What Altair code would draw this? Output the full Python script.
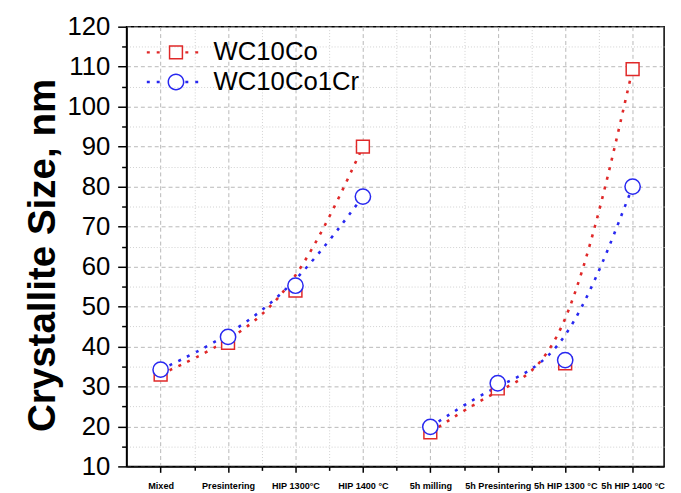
import altair as alt
import pandas as pd

categories = ["Mixed", "Presintering", "HIP 1300°C", "HIP 1400 °C",
              "5h milling", "5h Presintering", "5h HIP 1300 °C", "5h HIP 1400 °C"]
wc10co = [33.0, 40.9, 54.0, 90.0, 18.5, 29.5, 35.8, 109.4]
wc10co1cr = [34.2, 42.4, 55.2, 77.5, 19.9, 30.8, 36.6, 80.0]
segment = [1, 1, 1, 1, 2, 2, 2, 2]
series_names = ["WC10Co", "WC10Co1Cr"]
colors = ["#e02828", "#2828f0"]
x_major = [1, 2, 3, 4, 5, 6, 7, 8]
x_minor = [1.5, 2.5, 3.5, 4.5, 5.5, 6.5, 7.5]
y_major = [10, 20, 30, 40, 50, 60, 70, 80, 90, 100, 110, 120]
y_minor = [15, 25, 35, 45, 55, 65, 75, 85, 95, 105, 115]

rows = []
for name, vals in zip(series_names, [wc10co, wc10co1cr]):
    for i, v in enumerate(vals):
        rows.append({"idx": i + 1, "size": v, "series": name,
                     "grp": f"{name}-{segment[i]}"})
df = pd.DataFrame(rows)

FONT = "Liberation Sans"
xs = alt.Scale(domain=[0.495, 8.467], nice=False, zero=False)
ys = alt.Scale(domain=[10, 120], nice=False, zero=False)
stroke_scale = alt.Scale(domain=series_names, range=colors)

label_arr = "[" + ",".join("'" + c + "'" for c in categories) + "]"

ax_x_major = alt.Axis(values=x_major, orient="bottom", title=None,
                      labelExpr=f"{label_arr}[datum.value - 1]",
                      labelFont=FONT, labelFontWeight="bold", labelFontSize=9.2,
                      labelColor="black", labelPadding=9, labelAngle=0,
                      labelOverlap=False, labelBound=False, labelFlush=False,
                      tickSize=6, tickWidth=1.5, tickColor="black",
                      domain=True, domainColor="black", domainWidth=1.5,
                      grid=True, gridColor="#b8b8b8", gridDash=[4, 3], gridWidth=1)
ax_x_minor = alt.Axis(values=x_minor, orient="bottom", title=None, labels=False,
                      tickSize=4, tickWidth=1.5, tickColor="black", domain=False,
                      grid=True, gridColor="#d0d0d0", gridDash=[1, 2], gridWidth=1)
ax_y_major = alt.Axis(values=y_major, orient="left", title="Crystallite Size, nm",
                      titleFont=FONT, titleFontWeight="bold", titleFontSize=39,
                      titleColor="black", titleX=-73, titleY=231,
                      titleBaseline="alphabetic", titleAngle=270,
                      labelFont=FONT, labelFontSize=26, labelColor="black",
                      labelPadding=8, labelOverlap=False,
                      tickSize=9, tickWidth=1.5, tickColor="black",
                      domain=True, domainColor="black", domainWidth=1.5,
                      grid=True, gridColor="#b8b8b8", gridDash=[4, 3], gridWidth=1)
ax_y_minor = alt.Axis(values=y_minor, orient="left", title=None, labels=False,
                      tickSize=5, tickWidth=1.5, tickColor="black", domain=False,
                      grid=True, gridColor="#d0d0d0", gridDash=[1, 2], gridWidth=1)

base = alt.Chart(df)

minor_layer = base.mark_point(opacity=0).encode(
    x=alt.X("idx:Q", scale=xs, axis=ax_x_minor),
    y=alt.Y("size:Q", scale=ys, axis=ax_y_minor),
)
major_layer = base.mark_point(opacity=0).encode(
    x=alt.X("idx:Q", scale=xs, axis=ax_x_major),
    y=alt.Y("size:Q", scale=ys, axis=ax_y_major),
)

lines = base.mark_line(interpolate="basis", strokeDash=[3, 7], strokeWidth=2.6).encode(
    x=alt.X("idx:Q", scale=xs, axis=None),
    y=alt.Y("size:Q", scale=ys, axis=None),
    stroke=alt.Stroke("series:N", scale=stroke_scale, legend=None),
    detail="grp:N",
)

points_co = base.transform_filter(alt.datum.series == "WC10Co").mark_point(
    shape="square", size=169, filled=False, fill="white", fillOpacity=1,
    strokeWidth=1.5, opacity=1).encode(
    x=alt.X("idx:Q", scale=xs, axis=None),
    y=alt.Y("size:Q", scale=ys, axis=None),
    stroke=alt.Stroke("series:N", scale=stroke_scale, legend=None),
)
points_cr = base.transform_filter(alt.datum.series == "WC10Co1Cr").mark_point(
    shape="circle", size=240, filled=False, fill="white", fillOpacity=1,
    strokeWidth=1.5, opacity=1).encode(
    x=alt.X("idx:Q", scale=xs, axis=None),
    y=alt.Y("size:Q", scale=ys, axis=None),
    stroke=alt.Stroke("series:N", scale=stroke_scale, legend=None),
)

# legend symbols: dotted line with open marker (filled rings, unit = sqrt(size)/2)
def dots(centers):
    out = ""
    for c in centers:
        out += f"M{c - 0.23:.3f} -0.19h0.46v0.38h-0.46Z "
    return out

dot_centers = [-4.31, -2.77, 1.69, 3.23]
sq_path = ("M-1.115 -1.115H1.115V1.115H-1.115Z M-0.885 -0.885V0.885H0.885V-0.885Z "
           + dots(dot_centers))
ci_path = ("M-1.31 0A1.31 1.31 0 1 1 1.31 0A1.31 1.31 0 1 1 -1.31 0Z "
           "M-1.077 0A1.077 1.077 0 1 0 1.077 0A1.077 1.077 0 1 0 -1.077 0Z "
           + dots(dot_centers))
legend_paths = [sq_path, ci_path]
legend_y = [13, 43]


def legend_layer(k):
    leg = alt.Legend(title=None, orient="none", legendX=37, legendY=legend_y[k], padding=0,
                     labelFont=FONT, labelFontSize=26, labelColor="black",
                     symbolSize=169, symbolOffset=0, labelOffset=25,
                     symbolOpacity=1, symbolStrokeWidth=0, symbolFillColor=colors[k])
    return base.transform_filter(alt.datum.series == series_names[k]).mark_point(
        filled=True, color=colors[k], opacity=0).encode(
        x=alt.X("idx:Q", scale=xs, axis=None),
        y=alt.Y("size:Q", scale=ys, axis=None),
        shape=alt.Shape("series:N",
                        scale=alt.Scale(domain=[series_names[k]], range=[legend_paths[k]]),
                        legend=leg),
    )


chart = alt.layer(minor_layer, major_layer, lines, points_co, points_cr,
                  legend_layer(0), legend_layer(1)).resolve_axis(
    x="independent", y="independent"
).resolve_scale(
    shape="independent"
).properties(
    width=544, height=445,
    autosize=alt.AutoSizeParams(type="none"),
    padding={"left": 120, "top": 16, "right": 9, "bottom": 24},
).configure_view(
    stroke="black", strokeWidth=1.5
)

chart.save("out.html", embed_options={"renderer": "svg", "actions": False})
